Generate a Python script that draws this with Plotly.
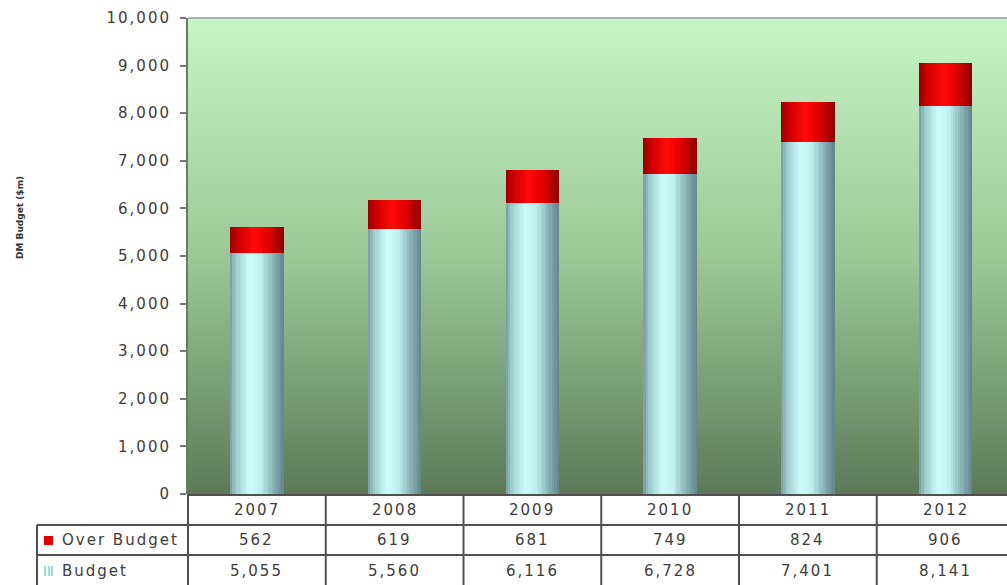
import plotly.graph_objects as go

# ---------------- data ----------------
years = ["2007", "2008", "2009", "2010", "2011", "2012"]
budget = [5055, 5560, 6116, 6728, 7401, 8141]
over_budget = [562, 619, 681, 749, 824, 906]
y_ticks = [0, 1000, 2000, 3000, 4000, 5000, 6000, 7000, 8000, 9000, 10000]
y_title = "DM Budget ($m)"
row_labels = ["Over Budget", "Budget"]

# ---------------- geometry ----------------
W, H = 1007, 585
ML, MT, MB, MR = 188, 18, 91, 0
PW = W - ML - MR
PH = H - MT - MB
CAT_PX = 137.75
x0 = -0.5
x1 = x0 + PW / CAT_PX
BAR_W = 0.39
N_STRIPS = 22
SPACING = 2  # px letter spacing used for table / tick text

FONT = "DejaVu Sans"
TXT_COL = "#3d3d3d"


def px_x(px):
    return (px - ML) / PW


def px_y(py):
    return (MT + PH - py) / PH


def cat_paper(v):
    return (v - x0) / (x1 - x0)


def lerp(c1, c2, t):
    return tuple(int(round(a + (b - a) * t)) for a, b in zip(c1, c2))


def shade(stops, t):
    for (p1, c1), (p2, c2) in zip(stops, stops[1:]):
        if p1 <= t <= p2:
            return "rgb(%d,%d,%d)" % lerp(c1, c2, (t - p1) / (p2 - p1))
    return "rgb(%d,%d,%d)" % stops[-1][1]


cyan_stops = [(0.0, (118, 152, 156)), (0.12, (160, 206, 208)), (0.36, (204, 252, 252)),
              (0.56, (192, 240, 240)), (0.8, (136, 178, 182)), (1.0, (96, 132, 138))]
red_stops = [(0.0, (150, 0, 0)), (0.15, (205, 0, 0)), (0.45, (255, 10, 10)),
             (0.7, (225, 0, 0)), (1.0, (140, 0, 0))]

fig = go.Figure()

# background gradient (plot area)
fig.add_trace(go.Heatmap(
    x=[-1, 7], y=[0, 10000], z=[[0, 0], [1, 1]],
    zsmooth="best", showscale=False, hoverinfo="skip",
    colorscale=[[0, "#5c7a58"], [0.5, "#9cc898"], [1, "#c8f5c6"]],
))

xs = list(range(len(years)))
step = BAR_W / N_STRIPS
for i in range(N_STRIPS):
    t = (i + 0.5) / N_STRIPS
    off = -BAR_W / 2 + i * step
    wid = step * 1.25 if i < N_STRIPS - 1 else step
    fig.add_trace(go.Bar(
        x=xs, y=budget, base=0, offset=off, width=wid,
        marker=dict(color=shade(cyan_stops, t), line=dict(width=0)),
        showlegend=False, hoverinfo="skip",
    ))
    fig.add_trace(go.Bar(
        x=xs, y=over_budget, base=budget, offset=off, width=wid,
        marker=dict(color=shade(red_stops, t), line=dict(width=0)),
        showlegend=False, hoverinfo="skip",
    ))

shapes = []
line_col = "#505050"
# top frame line
shapes.append(dict(type="line", xref="paper", yref="paper", x0=0, x1=1, y0=1, y1=1,
                   line=dict(color="#9a9a9a", width=1.5)))
# table background
shapes.append(dict(type="rect", xref="paper", yref="paper", x0=px_x(37), x1=1.02,
                   y0=px_y(590), y1=px_y(525), fillcolor="white", line=dict(width=0), layer="below"))
# table horizontal lines
shapes.append(dict(type="line", xref="paper", yref="paper", x0=0, x1=1.02,
                   y0=px_y(495), y1=px_y(495), line=dict(color=line_col, width=2)))
for py in (525, 555):
    shapes.append(dict(type="line", xref="paper", yref="paper", x0=px_x(37), x1=1.02,
                       y0=px_y(py), y1=px_y(py), line=dict(color=line_col, width=2)))
# left table border
shapes.append(dict(type="line", xref="paper", yref="paper", x0=px_x(37), x1=px_x(37),
                   y0=px_y(525), y1=px_y(590), line=dict(color=line_col, width=2)))
# column separators
for k in range(len(years) + 1):
    xp = cat_paper(k - 0.5)
    if xp <= 1.0:
        shapes.append(dict(type="line", xref="paper", yref="paper", x0=xp, x1=xp,
                           y0=px_y(494), y1=px_y(590), line=dict(color=line_col, width=2)))
# legend keys
shapes.append(dict(type="rect", xref="paper", yref="paper", x0=px_x(44), x1=px_x(53),
                   y0=px_y(545), y1=px_y(536), fillcolor="#e00000", line=dict(width=0)))
for a, b in ((44, 46), (48, 50), (51, 53)):
    shapes.append(dict(type="rect", xref="paper", yref="paper", x0=px_x(a), x1=px_x(b),
                       y0=px_y(576), y1=px_y(566), fillcolor="#8fe0e4", line=dict(width=0)))

annotations = []
tf = dict(family=FONT, size=15, color=TXT_COL)
for i, yr in enumerate(years):
    xp = cat_paper(i)
    if xp > 1.0:
        continue
    annotations.append(dict(x=xp, y=px_y(510), xref="paper", yref="paper", text=yr,
                            showarrow=False, font=tf, xanchor="center", yanchor="middle"))
    annotations.append(dict(x=xp, y=px_y(540), xref="paper", yref="paper",
                            text=f"{over_budget[i]:,}", showarrow=False, font=tf,
                            xanchor="center", yanchor="middle"))
    annotations.append(dict(x=xp, y=px_y(571), xref="paper", yref="paper",
                            text=f"{budget[i]:,}", showarrow=False, font=tf,
                            xanchor="center", yanchor="middle"))
# row labels: centre-anchored text grows both ways with letter spacing, so compensate
for lbl, py in zip(row_labels, (540, 571)):
    annotations.append(dict(x=px_x(60 + SPACING * len(lbl) / 2), y=px_y(py), xref="paper",
                            yref="paper", text=lbl, showarrow=False, font=tf,
                            xanchor="left", yanchor="middle"))
annotations.append(dict(x=px_x(20), y=px_y(218), xref="paper", yref="paper", text=y_title,
                        textangle=-90, showarrow=False,
                        font=dict(family=FONT, size=9, color="#333333", weight="bold"),
                        xanchor="center", yanchor="middle"))

fig.update_layout(
    width=W, height=H,
    margin=dict(l=ML, r=MR, t=MT, b=MB, pad=0),
    paper_bgcolor="white", plot_bgcolor="white",
    barmode="overlay", bargap=0,
    showlegend=False,
    shapes=shapes, annotations=annotations,
    xaxis=dict(range=[x0, x1], showgrid=False, zeroline=False, showticklabels=False,
               ticks="", showline=False, fixedrange=True),
    yaxis=dict(range=[0, 10000], tickvals=y_ticks, tickformat=",", showgrid=False,
               zeroline=False, ticks="outside", ticklen=6, tickcolor="#777777", tickwidth=1.5,
               showline=True, linecolor="#6a7c68", linewidth=2,
               ticklabelstandoff=6,
               tickfont=dict(family=FONT, size=15, color=TXT_COL), fixedrange=True),
)

# the reference's lettering is set wide; widen the letter spacing of the table and tick texts
post = """
document.querySelectorAll('.ytick text, .annotation-text').forEach(function(t){
  if (t.textContent !== %r) { t.style.letterSpacing = '%dpx'; }
});
""" % (y_title, SPACING)

fig.write_html("out.html", post_script=post)
